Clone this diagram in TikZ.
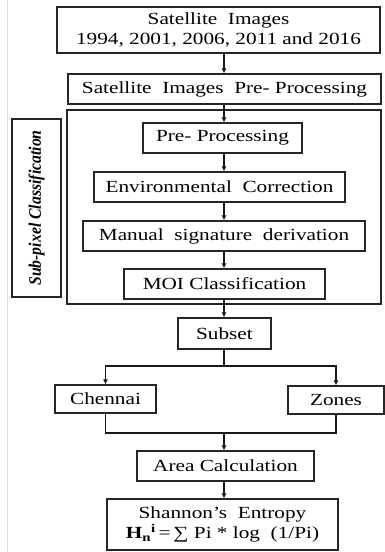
\documentclass[tikz,border=0pt]{standalone}
\usepackage{fontspec}
\setmainfont{Liberation Serif}[FakeStretch=1.25]
\newfontfamily\sidefont{Liberation Serif}[FakeStretch=0.9]
\usetikzlibrary{arrows.meta}
\begin{document}
\begin{tikzpicture}[x=1pt,y=-1pt,
  box/.style={draw=black!85, line width=1.2pt, inner sep=0pt, align=center,
    minimum height=30pt, font=\fontsize{17}{20}\selectfont},
  conn/.style={draw=black!90, line width=1.2pt},
  arr/.style={conn, -{Latex[length=5pt,width=5pt]}}]
\useasboundingbox (0,0) rectangle (385,552);
\fill[white] (0,0) rectangle (385,552);
\draw[black!12, line width=0.8pt] (7,0) -- (7,552);
% nodes
\node[box, minimum width=323pt, minimum height=46pt] (top) at (218.5,30) {Satellite\ \ Images\\1994, 2001, 2006, 2011 and 2016};
\node[box, minimum width=313pt] (pre) at (224.5,89) {Satellite\ \ Images\ \ Pre- Processing};
\draw[black!85, line width=1.2pt] (67,110) rectangle (381,304);
\node[box, rotate=90, minimum width=178pt, minimum height=49pt, font=\fontsize{17.5}{20}\sidefont\bfseries\itshape] (side) at (36.5,208) {Sub-pixel Classification};
\node[box, minimum width=159pt] (pp) at (222.5,138) {Pre- Processing};
\node[box, minimum width=251pt] (env) at (219.5,187) {Environmental\ \ Correction};
\node[box, minimum width=282pt] (man) at (224,236) {Manual\ \ signature\ \ derivation};
\node[box, minimum width=201pt] (moi) at (224.5,284) {MOI Classification};
\node[box, minimum width=93pt, minimum height=31pt] (subset) at (224.5,333.5) {Subset};
\node[box, minimum width=101pt, minimum height=28pt] (chennai) at (105.5,399) {Chennai};
\node[box, minimum width=96pt, minimum height=28pt] (zones) at (336,400) {Zones};
\node[box, minimum width=177pt] (area) at (225.5,466) {Area Calculation};
\node[box, minimum width=231pt, minimum height=51pt] (shannon) at (222.5,524.5) {Shannon’s\ \ Entropy\\\textbf{H}\textsubscript{\textbf{n}}\textsuperscript{\textbf{i}}\,=\,∑ Pi * log\ \ (1/Pi)};
% connectors
\draw[arr] (224,0 |- top.south) -- (224,0 |- pre.north);
\draw[arr] (224,0 |- pre.south) -- (224,0 |- pp.north);
\draw[arr] (224,0 |- pp.south) -- (224,0 |- env.north);
\draw[arr] (224,0 |- env.south) -- (224,0 |- man.north);
\draw[arr] (224,0 |- man.south) -- (224,0 |- moi.north);
\draw[arr] (224,0 |- moi.south) -- (224,0 |- subset.north);
\coordinate (b1) at (224,366);
\draw[conn] (224,0 |- subset.south) -- (b1);
\draw[arr] (b1) -| (chennai.north);
\draw[arr] (b1) -| (zones.north);
\coordinate (m1) at (224,433);
\draw[conn] (chennai.south) |- (m1);
\draw[conn] (zones.south) |- (m1);
\draw[arr] (m1) -- (224,0 |- area.north);
\draw[arr] (224,0 |- area.south) -- (224,0 |- shannon.north);
\end{tikzpicture}
\end{document}
